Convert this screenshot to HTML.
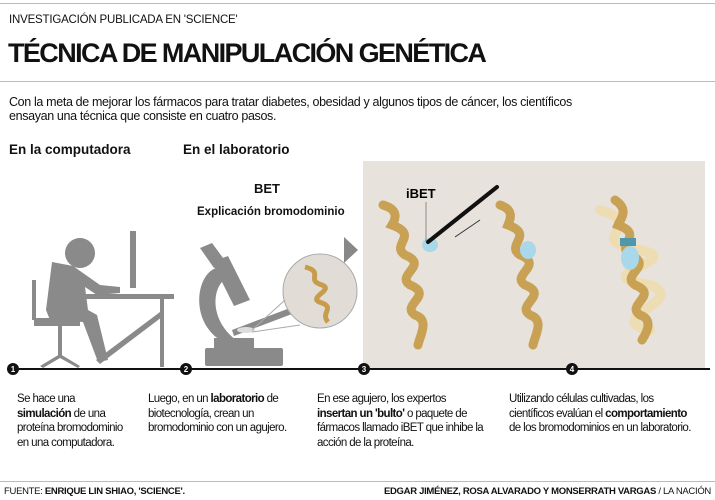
<!DOCTYPE html>
<html><head><meta charset="utf-8"><style>
body{margin:0;width:715px;height:500px;background:#fff;position:relative;overflow:hidden;font-family:"Liberation Sans",sans-serif;color:#111}
.a{position:absolute;white-space:nowrap}
.t{font-size:11.5px;line-height:14.5px;letter-spacing:-0.6px}
b{font-weight:bold}
</style></head><body>
<div class="a" style="left:0;top:3px;width:715px;height:1px;background:#bbb"></div>
<div class="a" style="left:9px;top:14px;font-size:11.5px;letter-spacing:-0.2px">INVESTIGACIÓN PUBLICADA EN 'SCIENCE'</div>
<div class="a" style="left:8px;top:38px;font-size:27px;font-weight:bold;letter-spacing:-1.6px">TÉCNICA DE MANIPULACIÓN GENÉTICA</div>
<div class="a" style="left:0;top:81px;width:715px;height:1px;background:#bbb"></div>
<div class="a t" style="left:9px;top:95px;font-size:12.5px;line-height:14px;letter-spacing:-0.35px">Con la meta de mejorar los fármacos para tratar diabetes, obesidad y algunos tipos de cáncer, los científicos<br>ensayan una técnica que consiste en cuatro pasos.</div>
<div class="a" style="left:9px;top:142px;font-size:13.5px;font-weight:bold">En la computadora</div>
<div class="a" style="left:183px;top:142px;font-size:13.5px;font-weight:bold">En el laboratorio</div>
<div class="a" style="left:254px;top:181px;font-size:13px;font-weight:bold">BET</div>
<div class="a" style="left:197px;top:206px;font-size:11.5px;font-weight:bold">Explicación bromodominio</div>
<svg class="a" style="left:0;top:0" width="715" height="500">
<rect x="363" y="161" width="342" height="208" fill="#e7e3dc"/>
<polygon points="344,237 358,250 344,263" fill="#888"/>
<g fill="#8a8a8a">
<circle cx="80" cy="253" r="15"/>
<path d="M52,262 L73,266 L100,285 L120,287 L120,293 L97,295 L85,287 L88,310 L97,315 L108,360 L98,362 L83,322 L50,320 L46,310 Z"/>
<rect x="130" y="231" width="6" height="57"/>
<rect x="86" y="294" width="88" height="5"/>
<rect x="160" y="299" width="4" height="68"/>
<polygon points="96,360 160,312 162,317 100,364"/>
<rect x="32" y="280" width="4" height="40"/>
<rect x="34" y="318" width="46" height="8"/>
<rect x="58" y="326" width="4" height="30"/>
<polygon points="40,366 60,354 80,366 78,368 60,358 43,368"/>
</g>
<g fill="#8a8a8a">
<polygon points="200,248 212,243 226,262 214,268"/>
<polygon points="212,262 228,256 250,300 234,306"/>
<path d="M216,268 C196,275 190,320 220,340 L236,340 C210,320 212,290 224,280 Z"/>
<rect x="205" y="348" width="78" height="18" rx="2"/>
<rect x="214" y="338" width="40" height="12"/>
<polygon points="232,330 290,308 292,314 234,336"/>
<ellipse cx="246" cy="330" rx="9" ry="3" fill="#ddd"/>
</g>
<circle cx="320" cy="291" r="37" fill="#e1ddd6" stroke="#aaa"/>
<line x1="252" y1="330" x2="285" y2="300" stroke="#aaa"/>
<line x1="252" y1="332" x2="300" y2="325" stroke="#aaa"/>
<path d="M305,267 C325,272 305,280 322,285 C335,290 305,298 322,303 C335,308 320,313 328,322" stroke="#c79d4b" stroke-width="5" fill="none"/>
<g fill="none" stroke-linecap="round">
<path d="M383,205 C400,210 395,220 392,225 C420,235 390,245 405,255 C430,265 395,275 410,285 C435,295 400,305 415,315 C430,320 420,335 418,345" stroke="#c9a155" stroke-width="9"/>
<path d="M500,205 C515,210 510,220 508,225 C535,235 505,245 520,255 C545,265 510,275 525,285 C550,295 515,305 530,315 C545,320 535,335 533,345" stroke="#c9a155" stroke-width="9"/>
<path d="M600,210 C650,225 580,240 640,250 C690,260 580,275 650,285 C690,300 600,320 650,330" stroke="#f0d9a8" stroke-width="10" opacity=".8"/>
<path d="M615,200 C630,210 620,220 618,225 C645,235 615,245 630,255 C655,265 620,275 635,285 C660,295 625,305 640,315 C655,320 645,335 642,340" stroke="#c9a155" stroke-width="9"/>
</g>
<ellipse cx="430" cy="245" rx="8" ry="7" fill="#a8d8ea"/>
<ellipse cx="528" cy="250" rx="8" ry="9" fill="#a8d8ea"/>
<ellipse cx="630" cy="258" rx="9" ry="12" fill="#a8d8ea"/>
<rect x="620" y="238" width="16" height="8" fill="#4f97ad"/>
<line x1="428" y1="242" x2="497" y2="187" stroke="#111" stroke-width="4" stroke-linecap="round"/>
<line x1="480" y1="220" x2="455" y2="237" stroke="#333"/>
<text x="406" y="198" font-family="Liberation Sans" font-weight="bold" font-size="13">iBET</text>
<line x1="426" y1="202" x2="426" y2="242" stroke="#666" stroke-width=".7"/>
<line x1="12" y1="369" x2="710" y2="369" stroke="#111" stroke-width="2"/>
<g font-family="Liberation Sans" font-weight="bold" font-size="8" fill="#fff" text-anchor="middle">
<circle cx="13" cy="369" r="6" fill="#111"/><text x="13" y="372">1</text>
<circle cx="186" cy="369" r="6" fill="#111"/><text x="186" y="372">2</text>
<circle cx="364" cy="369" r="6" fill="#111"/><text x="364" y="372">3</text>
<circle cx="572" cy="369" r="6" fill="#111"/><text x="572" y="372">4</text>
</g>
</svg>
<div class="a t" style="left:17px;top:392px">Se hace una<br><b>simulación</b> de una<br>proteína bromodominio<br>en una computadora.</div>
<div class="a t" style="left:148px;top:392px">Luego, en un <b>laboratorio</b> de<br>biotecnología, crean un<br>bromodominio con un agujero.</div>
<div class="a t" style="left:317px;top:392px">En ese agujero, los expertos<br><b>insertan un 'bulto'</b> o paquete de<br>fármacos llamado iBET que inhibe la<br>acción de la proteína.</div>
<div class="a t" style="left:509px;top:392px">Utilizando células cultivadas, los<br>científicos evalúan el <b>comportamiento</b><br>de los bromodominios en un laboratorio.</div>
<div class="a" style="left:0;top:481px;width:715px;height:1px;background:#bbb"></div>
<div class="a" style="left:4px;top:486px;font-size:9.5px;letter-spacing:-0.3px">FUENTE: <b>ENRIQUE LIN SHIAO, 'SCIENCE'.</b></div>
<div class="a" style="right:4px;top:486px;font-size:9.5px;letter-spacing:-0.3px"><b>EDGAR JIMÉNEZ, ROSA ALVARADO Y MONSERRATH VARGAS</b> / LA NACIÓN</div>
</body></html>
